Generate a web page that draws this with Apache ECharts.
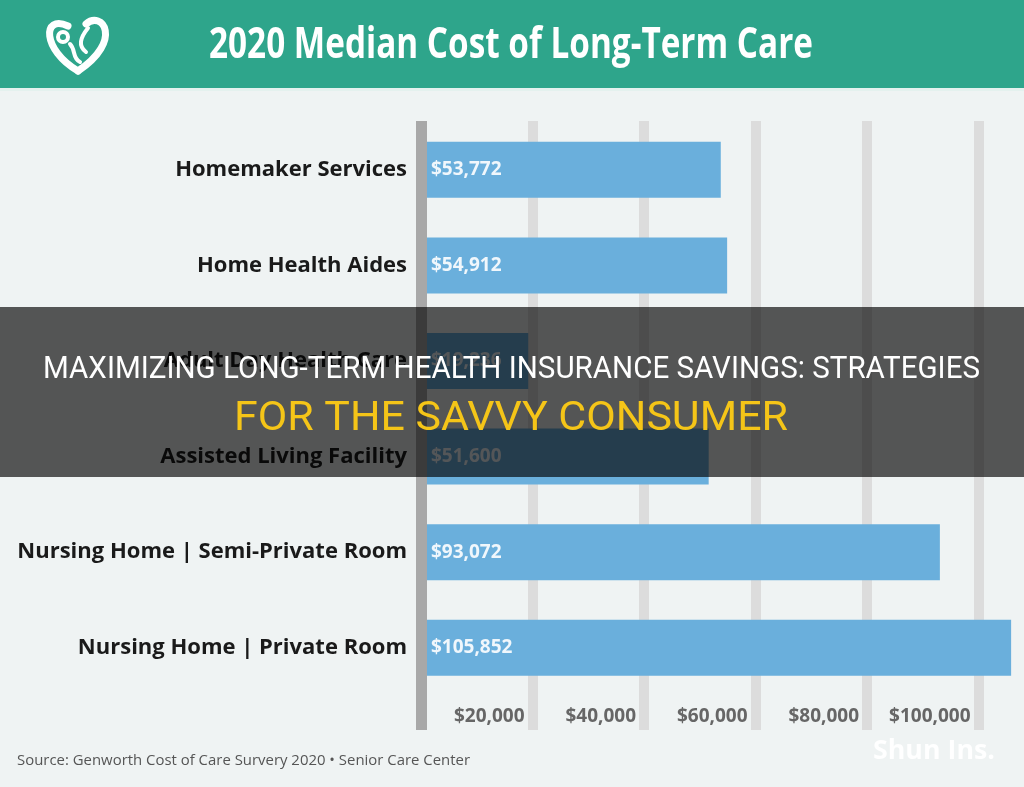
<!DOCTYPE html>
<html>
<head>
<meta charset="utf-8">
<script src="https://cdn.jsdelivr.net/npm/echarts@6/dist/echarts.min.js"></script>
<style>
html,body{margin:0;padding:0;background:#eff3f3;}
#chart{width:1024px;height:787px;}
</style>
</head>
<body>
<div id="chart"></div>
<script>
// ---- data ----
const categories = [
  'Homemaker Services',
  'Home Health Aides',
  'Adult Day Health Care',
  'Assisted Living Facility',
  'Nursing Home | Semi-Private Room',
  'Nursing Home | Private Room'
];
const costs = [53772, 54912, 19236, 51600, 93072, 105852];
const tickValues = [20000, 40000, 60000, 80000, 100000];
const tickLabels = ['$20,000', '$40,000', '$60,000', '$80,000', '$100,000'];
const titleText = '2020 Median Cost of Long-Term Care';
const overlayLine1 = 'MAXIMIZING LONG-TERM HEALTH INSURANCE SAVINGS: STRATEGIES';
const overlayLine2 = 'FOR THE SAVVY CONSUMER';
const sourceText = 'Source: Genworth Cost of Care Survery 2020 \u2022 Senior Care Center';
const watermarkText = 'Shun Ins.';

// ---- helpers ----
const mctx = document.createElement('canvas').getContext('2d');
function fitScale(text, font, target) {
  mctx.font = font;
  return target / mctx.measureText(text).width;
}

const titleFont = '700 43px "Open Sans"';
const l1Font = '400 31px Roboto';
const l2Font = '400 41px Roboto';
const wmFont = '700 26px "Open Sans"';
const srcFont = '400 15px "Open Sans"';

const chart = echarts.init(document.getElementById('chart'), null, {renderer: 'canvas'});

const logoStroke = {fill: null, stroke: '#ffffff', lineWidth: 7, lineCap: 'round'};
const logoThin = {fill: null, stroke: '#ffffff', lineWidth: 4, lineCap: 'round'};

const option = {
  backgroundColor: '#eff3f3',
  animation: false,
  grid: [
    {left: 421, right: 45.5, top: 121, bottom: 57},
    {left: 421, right: 45.5, top: 122, bottom: 91.4}
  ],
  xAxis: [
    {
      gridIndex: 0, type: 'value', min: 0, max: 100000, interval: 20000,
      axisLine: {show: false}, axisTick: {show: false},
      splitLine: {show: true, lineStyle: {color: ['#a8a8a8', '#dcdcdc', '#dcdcdc', '#dcdcdc', '#dcdcdc', '#dcdcdc'], width: 10, cap: 'butt'}},
      axisLabel: {
        inside: true, margin: 4, align: 'right', padding: [0, 8, 0, 0],
        showMinLabel: false,
        color: '#666666', fontFamily: 'Open Sans', fontWeight: 'bold', fontSize: 19,
        formatter: function (v) { const i = tickValues.indexOf(v); return i >= 0 ? tickLabels[i] : ''; }
      },
      z: 0
    },
    {
      gridIndex: 1, type: 'value', min: 0, max: 100000, interval: 20000, show: false
    }
  ],
  yAxis: [
    {
      gridIndex: 0, type: 'value', min: 0, max: 1,
      axisLine: {show: true, lineStyle: {color: '#a8a8a8', width: 11, cap: 'butt'}},
      axisTick: {show: false}, axisLabel: {show: false}, splitLine: {show: false},
      z: 5
    },
    {
      gridIndex: 1, type: 'category', data: categories, inverse: true,
      axisLine: {show: false}, axisTick: {show: false}, splitLine: {show: false},
      axisLabel: {
        margin: 14, color: '#1a1a1a', fontFamily: 'Open Sans', fontWeight: 'bold', fontSize: 22
      }
    }
  ],
  series: [
    {
      type: 'bar', xAxisIndex: 1, yAxisIndex: 1, data: costs, barWidth: 56, clip: false,
      itemStyle: {color: '#6aafdc'},
      label: {
        show: true, position: 'insideLeft', distance: 10,
        color: '#f0f7fc', fontFamily: 'Open Sans', fontWeight: 'bold', fontSize: 19,
        formatter: function (p) { return '$' + p.value.toLocaleString('en-US'); }
      },
      z: 2
    }
  ],
  graphic: [
    {type: 'rect', shape: {x: 0, y: 0, width: 1024, height: 88}, style: {fill: '#2ea58b'}, z: 10},
    {type: 'rect', shape: {x: 0, y: 88, width: 1024, height: 3}, style: {fill: '#e4f1ee'}, z: 10},
    // logo
    {type: 'bezierCurve', z: 11, shape: {x1: 78, y1: 71, cpx1: 42, cpy1: 50, cpx2: 42, cpy2: 14, x2: 68, y2: 26}, style: logoStroke},
    {type: 'bezierCurve', z: 11, shape: {x1: 86, y1: 24, cpx1: 102, cpy1: 10, cpx2: 124, cpy2: 40, x2: 78, y2: 71}, style: logoStroke},
    {type: 'circle', z: 11, shape: {cx: 63, cy: 37, r: 5}, style: {fill: null, stroke: '#ffffff', lineWidth: 4}},
    {type: 'bezierCurve', z: 11, shape: {x1: 70, y1: 44, cpx1: 76, cpy1: 50, cpx2: 72, cpy2: 58, x2: 80, y2: 62}, style: logoThin},
    {type: 'bezierCurve', z: 11, shape: {x1: 88, y1: 28, cpx1: 80, cpy1: 38, cpx2: 78, cpy2: 46, x2: 86, y2: 52}, style: logoThin},
    {type: 'text', z: 11, x: 209, y: 46, scaleX: fitScale(titleText, titleFont, 604),
      style: {text: titleText, font: titleFont, fill: '#ffffff', textAlign: 'left', textVerticalAlign: 'middle'}},
    // overlay band
    {type: 'rect', shape: {x: 0, y: 307, width: 1024, height: 170}, style: {fill: 'rgba(0,0,0,0.65)'}, z: 100},
    {type: 'text', z: 101, x: 43, y: 370, scaleX: fitScale(overlayLine1, l1Font, 937),
      style: {text: overlayLine1, font: l1Font, fill: '#ffffff', textAlign: 'left', textVerticalAlign: 'middle'}},
    {type: 'text', z: 101, x: 234, y: 420, scaleX: fitScale(overlayLine2, l2Font, 554),
      style: {text: overlayLine2, font: l2Font, fill: '#f5c518', textAlign: 'left', textVerticalAlign: 'middle'}},
    // source + watermark
    {type: 'text', z: 11, x: 17, y: 761, scaleX: fitScale(sourceText, srcFont, 453),
      style: {text: sourceText, font: srcFont, fill: '#555555', textAlign: 'left', textVerticalAlign: 'middle'}},
    {type: 'text', z: 11, x: 873, y: 752, scaleX: fitScale(watermarkText, wmFont, 122),
      style: {text: watermarkText, font: wmFont, fill: 'rgba(255,255,255,0.95)', textAlign: 'left', textVerticalAlign: 'middle'}}
  ]
};
chart.setOption(option);
</script>
</body>
</html>
